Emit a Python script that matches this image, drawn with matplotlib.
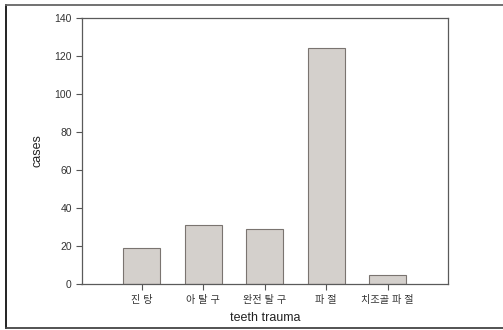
import matplotlib
matplotlib.use("Agg")
import matplotlib.pyplot as plt
from matplotlib.lines import Line2D

plt.rcParams['font.family'] = ['Liberation Sans', 'Noto Sans CJK KR', 'DejaVu Sans']

categories = ["진 탕", "아 탈 구", "완전 탈 구", "파 절", "치조골 파 절"]
cases = [19, 31, 29, 124, 5]
y_ticks = [0, 20, 40, 60, 80, 100, 120, 140]

W, H = 503, 330
fig = plt.figure(figsize=(W / 100, H / 100), dpi=100)
ax = fig.add_axes([81.5 / W, 1 - 284 / H, (448 - 81.5) / W, (284 - 18) / H])

x = list(range(len(categories)))
ax.bar(x, cases, width=0.6, color="#d4d0cc", edgecolor="#7a7470", linewidth=0.8)

ax.set_xlim(-0.98, 4.98)
ax.set_ylim(0, 140)
ax.set_yticks(y_ticks)
ax.set_xticks(x)
ax.set_xticklabels(categories, fontsize=7.3, color="#333333")
ax.tick_params(axis="y", labelsize=7.5, labelcolor="#333333", length=4, width=0.8, color="#555555", pad=3)
ax.tick_params(axis="x", length=4, width=0.8, color="#555555", pad=4)

for s in ax.spines.values():
    s.set_color("#5a5a5a")
    s.set_linewidth(0.9)

ax.set_ylabel("cases", fontsize=9, color="#222222", labelpad=8)
ax.set_xlabel("teeth trauma", fontsize=9, color="#222222", labelpad=5)

# outer frame of the figure
def fx(px):
    return px / W

def fy(py):
    return 1 - py / H

fig.add_artist(Line2D([fx(5.5), fx(5.5)], [fy(5), fy(327.5)], color="#111111", linewidth=1.3))
fig.add_artist(Line2D([fx(5.5), 1], [fy(5), fy(5)], color="#666666", linewidth=1.3))
fig.add_artist(Line2D([fx(5.5), 1], [fy(327.5), fy(327.5)], color="#444444", linewidth=1.3))

fig.savefig("out.png", dpi=100)
